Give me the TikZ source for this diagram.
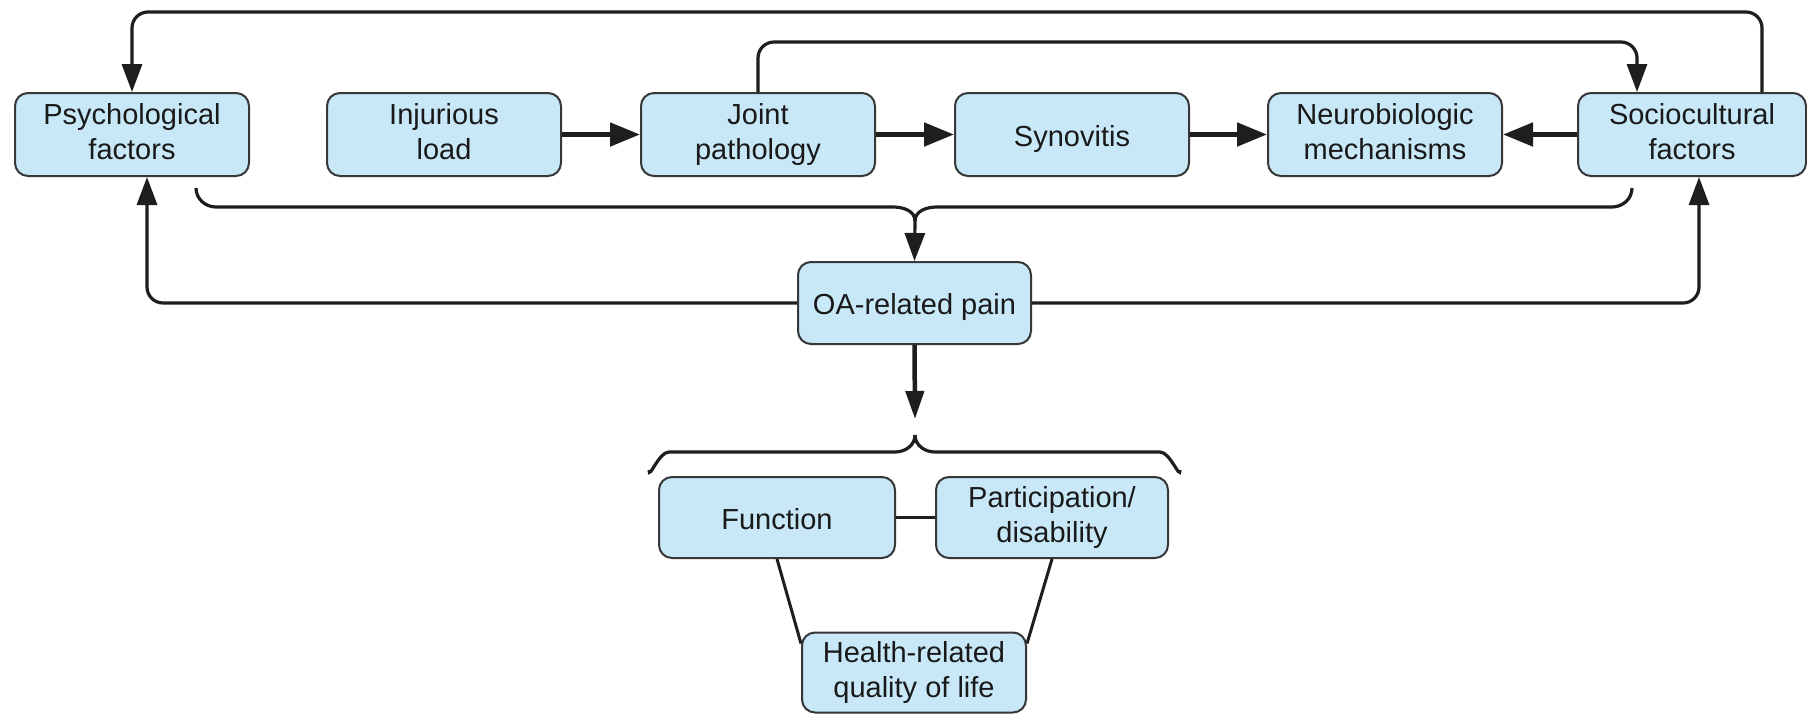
\documentclass[tikz,border=0pt]{standalone}
\usepackage{fontspec}
\setmainfont{Liberation Sans}
\usetikzlibrary{arrows.meta,calc}
\definecolor{boxfill}{RGB}{200,232,248}
\definecolor{boxline}{RGB}{55,55,55}
\definecolor{linecol}{RGB}{30,30,30}
\newcommand{\boxstrut}{\rule[-7pt]{0pt}{37pt}}
\begin{document}
\begin{tikzpicture}[x=1pt,y=-1pt,
  box/.style={draw=boxline, line width=2pt, fill=boxfill, rounded corners=13pt,
    minimum width=234pt, minimum height=83pt, align=center, inner sep=0pt,
    font=\fontsize{29}{35}\selectfont, text=black!90,
    execute at begin node=\boxstrut, execute at end node=\boxstrut},
  conn/.style={draw=linecol, line width=3.2pt, rounded corners=16pt},
  thinarrow/.style={-{Triangle[length=28pt,width=20pt]}},
  thick arrow/.style={draw=linecol, line width=5pt, -{Triangle[length=30pt,width=23pt]}},
  plain/.style={draw=linecol, line width=3pt}]
\useasboundingbox (0,0) rectangle (1807,713);
\fill[white] (0,0) rectangle (1807,713);

\node[box] (psych) at (132,134.5) {Psychological\\factors};
\node[box] (inj) at (444,134.5) {Injurious\\load};
\node[box] (joint) at (758,134.5) {Joint\\pathology};
\node[box] (syn) at (1072,134.5) {Synovitis};
\node[box] (neuro) at (1385,134.5) {Neurobiologic\\mechanisms};
\node[box, minimum width=228pt] (socio) at (1692,134.5) {Sociocultural\\factors};
\node[box, minimum width=233pt, minimum height=82pt] (oa) at (914.5,303) {OA-related pain};
\node[box, minimum width=236pt, minimum height=81pt] (func) at (777,517.5) {Function};
\node[box, minimum width=232pt, minimum height=81pt] (part) at (1052,517.5) {Participation/\\disability};
\node[box, minimum width=224pt, minimum height=80pt] (health) at (914,672.5) {Health-related\\quality of life};

% horizontal thick arrows
\draw[thick arrow] (inj.east) -- (joint.west);
\draw[thick arrow] (joint.east) -- (syn.west);
\draw[thick arrow] (syn.east) -- (neuro.west);
\draw[thick arrow] (socio.west) -- (neuro.east);

% top loop socio -> psych
\coordinate (topR) at (1762,12);
\coordinate (topL) at (132,12);
\draw[conn, thinarrow] (socio.north -| topR) -- (topR) -- (topL) -- (psych.north);

% joint -> socio
\coordinate (midR) at (1637,42);
\draw[conn, thinarrow] (joint.north) |- (midR) -- (socio.north -| midR);

% upper brace to OA
\coordinate (bL) at (196,188);
\coordinate (bR) at (1632,188);
\coordinate (bC) at (915,221);
\draw[conn, rounded corners=0pt] (bL) to[out=-90,in=180] (216,207) -- (893,207) to[out=0,in=90] (bC);
\draw[conn, rounded corners=0pt] (bR) to[out=-90,in=0] (1612,207) -- (937,207) to[out=180,in=90] (bC);
\draw[conn, thinarrow, rounded corners=0pt] (bC) -- (oa.north);

% OA -> psych, OA -> socio
\coordinate (lowL) at (147,303);
\coordinate (lowR) at (1699,303);
\draw[conn, thinarrow] (oa.west) -- (lowL) -- (psych.south -| lowL);
\draw[conn, thinarrow] (oa.east) -- (lowR) -- (socio.south -| lowR);

% OA -> lower brace
\coordinate (cC) at (915,435);
\coordinate (cTip) at (915,419);
\draw[draw=linecol, line width=4.5pt, -{Triangle[length=28pt,width=18pt]}] (oa.south) -- (cTip);
\coordinate (cL) at (649,470);
\coordinate (cR) at (1180,470);
\draw[conn, rounded corners=0pt] (cL) to[out=-90,in=180] (669,452) -- (895,452) to[out=0,in=-90] (cC);
\draw[conn, rounded corners=0pt] (cR) to[out=-90,in=0] (1160,452) -- (935,452) to[out=180,in=-90] (cC);

% lower connections
\draw[plain] (func.east) -- (part.west);
\draw[plain] (func.south) -- ([yshift=-12pt]health.north west);
\draw[plain] (part.south) -- ([yshift=-12pt]health.north east);
\end{tikzpicture}
\end{document}
